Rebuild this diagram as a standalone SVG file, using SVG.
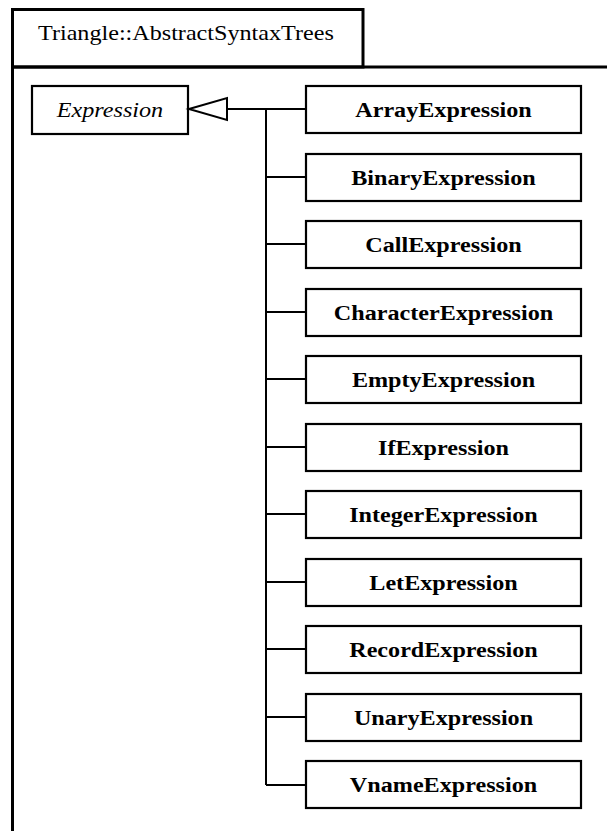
<svg xmlns="http://www.w3.org/2000/svg" width="607" height="831" viewBox="0 0 607 831">
<style>
.pkg{fill:none;stroke:#000;stroke-width:3}
.box{fill:#fff;stroke:#000;stroke-width:2.2}
.conn{fill:none;stroke:#000;stroke-width:2}
.t{font-family:"Liberation Serif","Times New Roman",serif;font-size:21px;fill:#000}
.b{font-weight:bold;text-anchor:middle}
.i{font-style:italic;text-anchor:middle}
</style>
<rect width="607" height="831" fill="#fff"/>
<g id="package">
<rect class="pkg" x="12.5" y="9.5" width="350.5" height="57.5"/>
<path class="pkg" d="M12.5 67 H607 M12.5 67 V831"/>
<text class="t" transform="translate(38,40) scale(1.15,1)">Triangle::AbstractSyntaxTrees</text>
</g>
<g id="Expression">
<rect class="box" x="32" y="86" width="156" height="48"/>
<text class="t i" transform="translate(110,117) scale(1.15,1)">Expression</text>
</g>
<g id="connectors">
<polygon class="conn" points="189,109 227,98 227,120" fill="#fff"/>
<path class="conn" d="M227 109 H306 M266 109 V785 M266 177 H306 M266 244 H306 M266 312 H306 M266 379 H306 M266 447 H306 M266 514 H306 M266 582 H306 M266 649 H306 M266 717 H306 M266 785 H306"/>
</g>
<g id="ArrayExpression"><rect class="box" x="306" y="86" width="275" height="47"/><text class="t b" transform="translate(443.5,117) scale(1.15,1)">ArrayExpression</text></g>
<g id="BinaryExpression"><rect class="box" x="306" y="154" width="275" height="47"/><text class="t b" transform="translate(443.5,185) scale(1.15,1)">BinaryExpression</text></g>
<g id="CallExpression"><rect class="box" x="306" y="221" width="275" height="47"/><text class="t b" transform="translate(443.5,252) scale(1.15,1)">CallExpression</text></g>
<g id="CharacterExpression"><rect class="box" x="306" y="289" width="275" height="47"/><text class="t b" transform="translate(443.5,320) scale(1.15,1)">CharacterExpression</text></g>
<g id="EmptyExpression"><rect class="box" x="306" y="356" width="275" height="47"/><text class="t b" transform="translate(443.5,387) scale(1.15,1)">EmptyExpression</text></g>
<g id="IfExpression"><rect class="box" x="306" y="424" width="275" height="47"/><text class="t b" transform="translate(443.5,455) scale(1.15,1)">IfExpression</text></g>
<g id="IntegerExpression"><rect class="box" x="306" y="491" width="275" height="47"/><text class="t b" transform="translate(443.5,522) scale(1.15,1)">IntegerExpression</text></g>
<g id="LetExpression"><rect class="box" x="306" y="559" width="275" height="47"/><text class="t b" transform="translate(443.5,590) scale(1.15,1)">LetExpression</text></g>
<g id="RecordExpression"><rect class="box" x="306" y="626" width="275" height="47"/><text class="t b" transform="translate(443.5,657) scale(1.15,1)">RecordExpression</text></g>
<g id="UnaryExpression"><rect class="box" x="306" y="694" width="275" height="47"/><text class="t b" transform="translate(443.5,725) scale(1.15,1)">UnaryExpression</text></g>
<g id="VnameExpression"><rect class="box" x="306" y="761" width="275" height="47"/><text class="t b" transform="translate(443.5,792) scale(1.15,1)">VnameExpression</text></g>
</svg>
